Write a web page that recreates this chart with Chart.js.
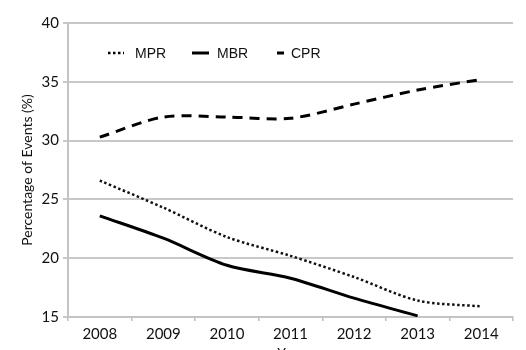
<!DOCTYPE html>
<html>
<head>
<meta charset="utf-8">
<script src="https://cdn.jsdelivr.net/npm/chart.js@4"></script>
<style>
  html, body { margin: 0; padding: 0; background: #fff; overflow: hidden; }
  #wrap { width: 526px; height: 350px; overflow: hidden; }
</style>
</head>
<body>
<div id="wrap"><canvas id="chart" width="526" height="362"></canvas></div>
<script>
// Datos
const years = ["2008", "2009", "2010", "2011", "2012", "2013", "2014"];
const mpr = [26.6, 24.3, 21.8, 20.2, 18.4, 16.4, 15.9];
const mbr = [23.6, 21.7, 19.4, 18.3, 16.6, 15.1, null];
const cpr = [30.3, 32.0, 32.0, 31.9, 33.1, 34.3, 35.2];
const yTicks = [15, 20, 25, 30, 35, 40];

const tickFont = { family: "Lato, 'Open Sans', sans-serif", size: 15 };

// Leyenda dentro del area del grafico
const legendInside = {
    id: "legendInside",
    afterDatasetsDraw(chart) {
        const ctx = chart.ctx;
        const items = [
            { ds: 0, x0: 108, x1: 124, tx: 135 },
            { ds: 1, x0: 192, x1: 209, tx: 217 },
            { ds: 2, x0: 277, x1: 284, tx: 291 }
        ];
        const y = 53;
        ctx.save();
        items.forEach(it => {
            const d = chart.data.datasets[it.ds];
            ctx.beginPath();
            ctx.strokeStyle = "#000";
            ctx.lineWidth = d.borderWidth;
            ctx.setLineDash(d.borderDash || []);
            ctx.moveTo(it.x0, y);
            ctx.lineTo(it.x1, y);
            ctx.stroke();
            ctx.setLineDash([]);
            ctx.fillStyle = "#111";
            ctx.font = "14px 'Liberation Sans', Arial, sans-serif";
            ctx.textBaseline = "middle";
            ctx.fillText(d.label, it.tx, y + 1);
        });
        ctx.restore();
    }
};

new Chart(document.getElementById("chart"), {
    type: "line",
    data: {
        labels: years,
        datasets: [
            {
                label: "MPR",
                data: mpr,
                borderColor: "#111",
                borderWidth: 2.5,
                borderDash: [2.5, 2.5],
                pointRadius: 0,
                tension: 0.3,
                fill: false
            },
            {
                label: "MBR",
                data: mbr,
                borderColor: "#000",
                borderWidth: 3,
                pointRadius: 0,
                tension: 0.3,
                fill: false
            },
            {
                label: "CPR",
                data: cpr,
                borderColor: "#000",
                borderWidth: 3,
                borderDash: [10, 7],
                pointRadius: 0,
                tension: 0.3,
                fill: false
            }
        ]
    },
    options: {
        responsive: false,
        animation: false,
        layout: { padding: { top: 23, right: 13, left: 0, bottom: 0 } },
        plugins: {
            legend: { display: false },
            tooltip: { enabled: false }
        },
        scales: {
            x: {
                offset: true,
                grid: {
                    offset: true,
                    drawOnChartArea: false,
                    drawTicks: true,
                    tickLength: 4,
                    color: "#bdbdbd",
                    lineWidth: 1.5
                },
                border: { color: "#c4c4c4", width: 2 },
                ticks: { color: "#111", font: tickFont, padding: 4 },
                title: {
                    display: true,
                    text: "Year",
                    color: "#111",
                    font: { family: "Lato, 'Open Sans', sans-serif", size: 14 },
                    padding: { top: 0, bottom: 0 }
                },
                afterFit(scale) { scale.height = 45; }
            },
            y: {
                min: 15,
                max: 40,
                afterBuildTicks(scale) { scale.ticks = yTicks.map(v => ({ value: v })); },
                grid: {
                    color: "#c8c8c8",
                    lineWidth: 2,
                    tickLength: 5
                },
                border: { color: "#c4c4c4", width: 2 },
                ticks: { color: "#111", font: tickFont, padding: 4 },
                title: {
                    display: true,
                    text: "Percentage of Events (%)",
                    color: "#111",
                    font: { family: "Lato, 'Open Sans', sans-serif", size: 14 },
                    padding: { top: 19, bottom: 4 }
                },
                afterFit(scale) { scale.width = 68; }
            }
        }
    },
    plugins: [legendInside]
});
</script>
</body>
</html>
